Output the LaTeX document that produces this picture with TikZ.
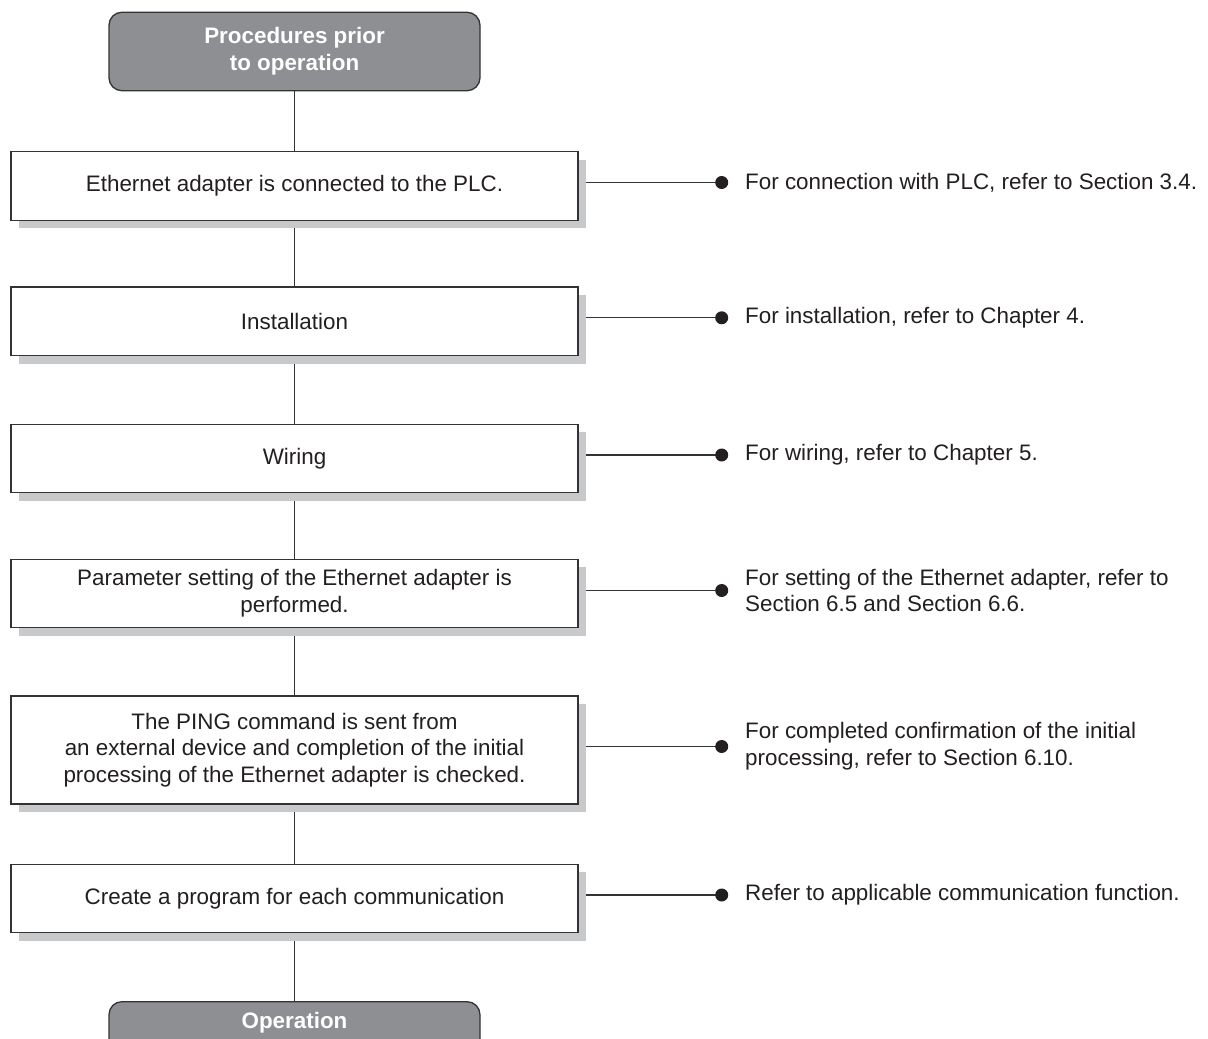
\documentclass[tikz,border=0pt]{standalone}
\usepackage{fontspec}
\setmainfont{Liberation Sans}
\usetikzlibrary{shadows,backgrounds}
\definecolor{termfill}{RGB}{142,143,147}
\definecolor{shadowgray}{RGB}{200,201,203}
\definecolor{linecol}{RGB}{51,51,51}
\definecolor{txtcol}{RGB}{35,31,32}
\pgfdeclarelayer{paper}
\pgfsetlayers{paper,background,main}
\begin{document}
\begin{tikzpicture}[x=1pt,y=-1pt,
  font=\fontsize{22.4}{26.8}\selectfont,
  stepbox/.style={draw=linecol, line width=1.3pt, fill=white,
    minimum width=567pt, minimum height=68.5pt, align=center, text=txtcol, inner sep=0pt,
    drop shadow={shadow xshift=8pt, shadow yshift=-8pt, fill=shadowgray, opacity=1}},
  term/.style={draw=linecol, line width=1.3pt, fill=termfill, rounded corners=13pt,
    minimum width=371pt, text=white, font=\fontsize{22.4}{26.8}\selectfont\bfseries,
    align=center, inner sep=0pt},
  conn/.style={draw=linecol, line width=1.3pt},
  enddot/.style={circle, fill=txtcol, inner sep=0pt, minimum size=13pt},
  note/.style={anchor=west, align=left, text=txtcol, inner sep=0pt}]
\clip (0,0) rectangle (1208,1039);
\begin{pgfonlayer}{paper}
\fill[white] (0,0) rectangle (1208,1039);
\end{pgfonlayer}

\node[term, minimum height=78.5pt] (t1) at (294.5,51.5) {Procedures prior\\to operation};
\node[stepbox] (b1) at (294.5,186) {Ethernet adapter is connected to the PLC.};
\node[stepbox] (b2) at (294.5,321.3) {Installation};
\node[stepbox] (b3) at (294.5,458.5) {Wiring};
\node[stepbox] (b4) at (294.5,593.5) {Parameter setting of the Ethernet adapter is\\performed.};
\node[stepbox, minimum height=108pt] (b5) at (294.5,750) {The PING command is sent from\\an external device and completion of the initial\\processing of the Ethernet adapter is checked.};
\node[stepbox] (b6) at (294.5,898.5) {Create a program for each communication};
\node[term, anchor=north, inner ysep=0pt, text height=27pt, text depth=52pt] (t2) at (294.5,1001) {Operation};

\node[enddot] (d1) at (721.7,182.5) {};
\node[enddot] (d2) at (721.7,317.8) {};
\node[enddot] (d3) at (721.7,455) {};
\node[enddot] (d4) at (721.7,590.5) {};
\node[enddot] (d5) at (721.7,746.5) {};
\node[enddot] (d6) at (721.7,895) {};

\node[note] (n1) at (745,182.5) {For connection with PLC, refer to Section 3.4.};
\node[note] (n2) at (745,317.8) {For installation, refer to Chapter 4.};
\node[note] (n3) at (745,455) {For wiring, refer to Chapter 5.};
\node[note] (n4) at (745,590.5) {For setting of the Ethernet adapter, refer to\\Section 6.5 and Section 6.6.};
\node[note] (n5) at (745,746.5) {For completed confirmation of the initial\\processing, refer to Section 6.10.};
\node[note] (n6) at (745,895) {Refer to applicable communication function.};

\begin{scope}[on background layer]
\draw[conn] (t1.south) -- (b1.north);
\draw[conn] (b1.south) -- (b2.north);
\draw[conn] (b2.south) -- (b3.north);
\draw[conn] (b3.south) -- (b4.north);
\draw[conn] (b4.south) -- (b5.north);
\draw[conn] (b5.south) -- (b6.north);
\draw[conn] (b6.south) -- (t2.north);
\draw[conn] (b1.east |- d1) -- (d1.center);
\draw[conn] (b2.east |- d2) -- (d2.center);
\draw[conn] (b3.east |- d3) -- (d3.center);
\draw[conn] (b4.east |- d4) -- (d4.center);
\draw[conn] (b5.east |- d5) -- (d5.center);
\draw[conn] (b6.east |- d6) -- (d6.center);
\end{scope}
\end{tikzpicture}
\end{document}
